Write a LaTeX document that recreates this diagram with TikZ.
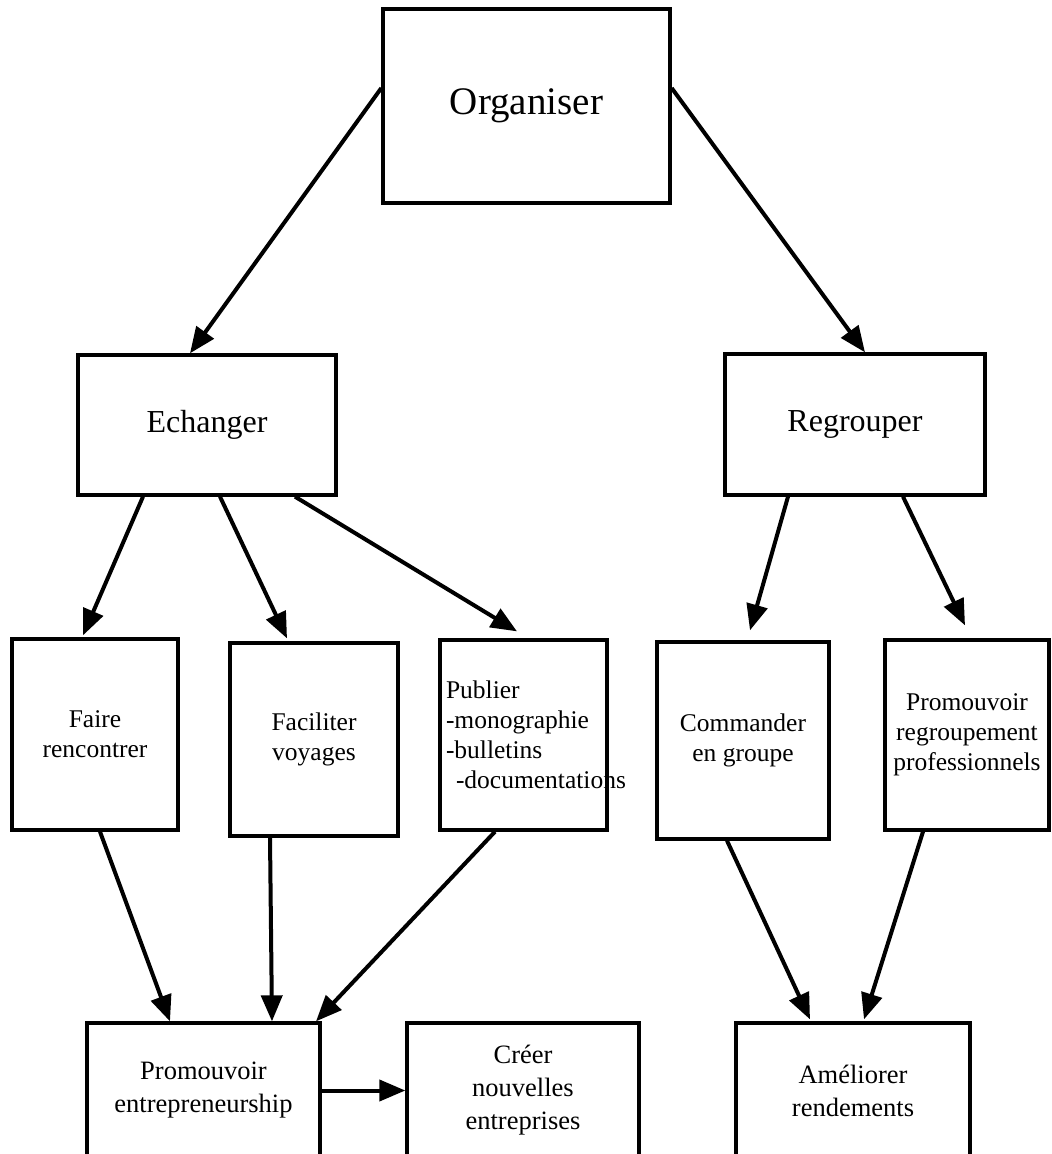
\documentclass[tikz,border=0pt]{standalone}
\usepackage{fontspec}
\setmainfont{Liberation Serif}
\usetikzlibrary{arrows.meta}
\begin{document}
\begin{tikzpicture}[x=1pt,y=1pt,
  box/.style={draw, line width=3.3pt, inner sep=0pt, align=center},
  bigtxt/.style={font=\fontsize{39}{46}\selectfont},
  midtxt/.style={font=\fontsize{32}{38}\selectfont},
  smalltxt/.style={font=\fontsize{25.5}{30}\selectfont},
  lowtxt/.style={font=\fontsize{26.5}{33}\selectfont},
  arr/.style={line width=4pt, -{Triangle[length=26pt,width=21pt]}}]
\useasboundingbox (0,0) rectangle (1052,-1154);

\node[box, bigtxt, minimum width=287pt, minimum height=194pt] (org) at (526.5,-106) {Organiser};
\node[box, midtxt, minimum width=258pt, minimum height=140pt] (ech) at (207,-425) {Echanger};
\node[box, midtxt, minimum width=260pt, minimum height=141pt] (reg) at (855,-424.5) {Regrouper};

\node[box, smalltxt, minimum width=166pt, minimum height=191pt] (faire) at (95,-734.5) {Faire\\rencontrer};
\node[box, smalltxt, minimum width=168pt, minimum height=193pt] (fac) at (314,-739.5) {Faciliter\\voyages};
\node[box, smalltxt, minimum width=167pt, minimum height=190pt, text width=155pt, inner xsep=6pt, align=left] (pub) at (523.5,-735)
  {Publier\\-monographie\\-bulletins\\\mbox{\hspace*{10pt}-documentations}};
\node[box, smalltxt, minimum width=172pt, minimum height=197pt] (com) at (743,-740.5) {Commander\\en groupe};
\node[box, smalltxt, minimum width=164pt, minimum height=190pt] (prr) at (967,-735) {Promouvoir\\regroupement\\professionnels};

\node[box, lowtxt, minimum width=233pt, minimum height=135pt] (pe) at (203.5,-1090.5) {Promouvoir\\entrepreneurship};
\node[box, lowtxt, minimum width=232pt, minimum height=135pt] (cre) at (523,-1090.5) {Créer\\nouvelles\\entreprises};
\node[box, lowtxt, minimum width=234pt, minimum height=135pt] (ame) at (853,-1090.5) {Améliorer\\rendements};

\draw[arr] ([yshift=18pt]org.west) -- ([xshift=-17pt]ech.north);
\draw[arr] ([yshift=18pt]org.east) -- ([xshift=10pt]reg.north);
\draw[arr] ([xshift=-64pt]ech.south) -- ([xshift=-12pt,yshift=2pt]faire.north);
\draw[arr] ([xshift=13pt]ech.south) -- ([xshift=-27pt,yshift=3pt]fac.north);
\draw[arr] ([xshift=88pt]ech.south) -- ([xshift=-6.5pt,yshift=7pt]pub.north);
\draw[arr] ([xshift=-67pt]reg.south) -- ([xshift=7pt,yshift=10pt]com.north);
\draw[arr] ([xshift=48pt]reg.south) -- ([xshift=-2pt,yshift=13pt]prr.north);
\draw[arr] ([xshift=5pt]faire.south) -- ([xshift=-33.5pt]pe.north);
\draw[arr] ([xshift=-44pt]fac.south) -- ([xshift=68.5pt]pe.north);
\draw[arr] ([xshift=-28.5pt]pub.south) -- ([xshift=112.5pt]pe.north);
\draw[arr] ([xshift=-16pt]com.south) -- ([xshift=-43pt,yshift=2pt]ame.north);
\draw[arr] ([xshift=-44pt]prr.south) -- ([xshift=11pt,yshift=2pt]ame.north);
\draw[arr] (pe.east) -- (cre.west);
\end{tikzpicture}
\end{document}
